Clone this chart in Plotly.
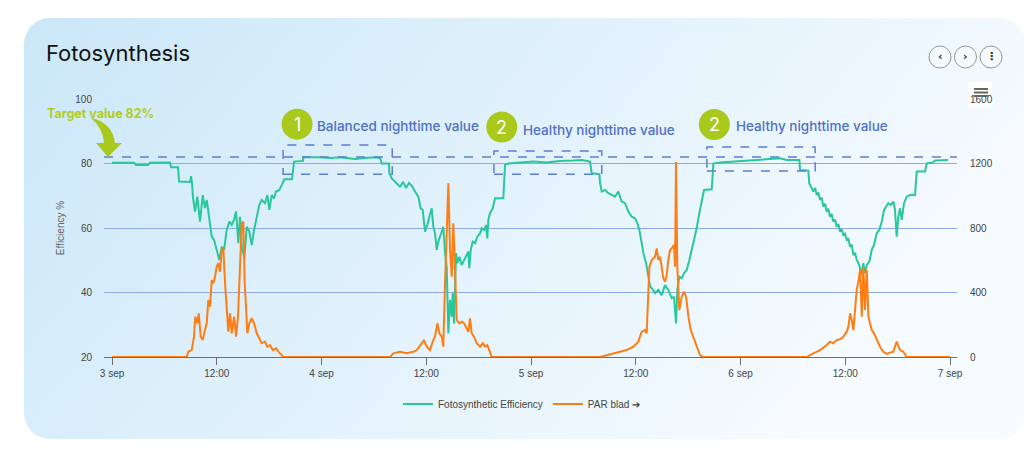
import base64
import pandas as pd
import plotly.graph_objects as go

BASE = pd.Timestamp("2024-09-03 00:00")

# (hours since 3 sep 00:00, efficiency %)
eff_points = [
    (0.00, 80.2), (2.52, 80.2), (2.75, 79.5), (4.12, 79.5), (4.35, 80.2), (6.64, 80.3), (6.76, 78.8),
    (7.56, 78.8), (7.68, 74.4), (8.94, 74.3), (9.05, 76.1), (9.16, 74.0), (9.28, 69.3), (9.51, 65.1),
    (9.77, 69.7), (10.08, 62.0), (10.39, 70.2), (10.65, 66.2), (10.85, 68.7), (11.15, 62.0), (11.42, 57.3),
    (11.69, 56.3), (11.99, 53.2), (12.29, 50.1), (12.57, 54.2), (12.83, 53.2), (13.14, 59.4), (13.44, 62.0),
    (13.71, 61.0), (13.98, 62.5), (14.21, 65.1), (14.47, 55.3), (14.66, 63.5), (14.86, 54.2), (15.16, 50.6),
    (15.43, 60.4), (15.73, 58.9), (16.00, 54.7), (16.27, 59.4), (16.58, 63.5), (16.87, 67.1), (17.15, 68.7),
    (17.53, 67.7), (17.79, 70.2), (18.02, 65.6), (18.30, 70.2), (18.56, 69.2), (18.79, 71.3), (19.17, 71.8),
    (19.44, 73.3), (19.74, 75.1), (20.62, 75.1), (20.85, 80.6), (21.88, 80.8), (21.92, 81.9), (23.83, 81.9),
    (24.97, 81.7), (26.12, 81.9), (27.27, 81.6), (27.84, 81.4), (28.98, 81.7), (30.13, 81.9), (30.70, 81.7),
    (30.90, 80.0), (31.73, 80.0), (31.77, 77.0), (32.04, 75.4), (32.61, 74.0), (32.99, 72.8), (33.34, 74.3),
    (33.68, 72.4), (34.02, 74.0), (34.37, 73.0), (34.71, 71.3), (35.09, 69.7), (35.36, 66.1), (35.59, 65.6),
    (35.86, 58.9), (36.12, 60.9), (36.35, 63.5), (36.62, 66.1), (36.81, 60.4), (37.00, 58.3), (37.20, 53.2),
    (37.38, 55.8), (37.58, 57.3), (37.77, 58.9), (37.95, 60.4), (38.15, 52.2), (38.34, 48.0), (38.53, 27.3),
    (38.72, 37.7), (38.92, 32.5), (39.03, 39.8), (39.18, 30.4), (39.29, 38.7), (39.41, 52.2), (39.56, 49.1),
    (39.79, 51.1), (40.06, 48.5), (40.33, 50.1), (40.55, 51.1), (40.82, 52.7), (40.93, 47.5), (41.09, 53.2),
    (41.32, 55.8), (41.59, 55.3), (41.85, 57.3), (42.16, 58.3), (42.35, 59.9), (42.62, 59.4), (42.85, 60.9),
    (42.99, 56.8), (43.11, 62.5), (43.30, 64.6), (43.61, 66.1), (43.88, 69.2), (44.83, 69.2), (45.02, 79.5),
    (45.40, 80.0), (46.74, 80.3), (48.26, 80.6), (49.80, 80.3), (51.32, 80.8), (52.85, 80.9), (53.81, 81.1),
    (54.76, 80.6), (54.95, 77.0), (55.83, 76.7), (55.91, 73.9), (56.10, 71.3), (56.48, 71.8), (56.86, 70.8),
    (57.25, 70.2), (57.62, 69.7), (58.00, 71.3), (58.39, 68.2), (58.77, 67.7), (59.15, 65.1), (59.54, 63.5),
    (59.91, 63.0), (60.18, 61.5), (60.41, 59.4), (60.68, 55.3), (60.87, 52.2), (61.18, 49.1), (61.44, 45.0),
    (61.63, 42.0), (61.83, 41.3), (62.21, 39.8), (62.58, 40.8), (62.97, 39.2), (63.35, 42.3), (63.73, 40.8),
    (64.12, 38.2), (64.38, 38.7), (64.61, 30.4), (64.76, 40.8), (64.99, 44.9), (65.26, 44.4), (65.53, 46.0),
    (65.84, 47.0), (66.14, 50.1), (66.41, 53.2), (66.67, 55.8), (66.98, 59.9), (67.28, 64.6), (67.56, 68.7),
    (67.82, 71.8), (68.70, 72.0), (68.89, 80.0), (69.65, 80.3), (71.18, 80.6), (72.71, 80.8), (74.23, 81.1),
    (75.76, 81.3), (76.53, 81.6), (77.29, 81.1), (78.74, 81.1), (78.82, 78.0), (79.77, 77.8), (79.88, 73.9),
    (80.34, 71.3), (80.55, 72.4), (80.73, 70.2), (80.92, 71.0), (81.11, 68.7), (81.30, 69.4), (81.49, 66.6),
    (81.68, 67.5), (81.87, 65.1), (82.06, 66.0), (82.25, 63.5), (82.44, 64.3), (82.63, 62.0), (82.82, 62.6),
    (83.02, 60.4), (83.21, 61.2), (83.40, 58.9), (83.59, 59.6), (83.78, 57.8), (83.97, 58.2), (84.17, 56.3),
    (84.36, 56.8), (84.55, 54.2), (84.74, 54.8), (84.93, 51.6), (85.12, 52.3), (85.31, 50.1),
    (85.61, 48.5), (85.81, 45.4), (86.07, 49.1), (86.26, 46.0), (86.46, 48.5), (86.76, 49.6), (87.03, 53.2),
    (87.29, 54.7), (87.60, 58.3), (87.90, 59.4), (88.18, 62.0), (88.44, 65.6), (88.67, 66.6), (88.93, 67.7),
    (89.21, 67.1), (89.51, 68.2), (89.70, 65.6), (89.89, 57.3), (90.08, 63.5), (90.27, 66.1), (90.47, 62.5),
    (90.73, 67.7), (91.04, 69.7), (91.42, 70.2), (91.99, 70.2), (92.19, 77.5), (93.14, 77.5), (93.33, 80.0),
    (94.05, 80.3), (94.28, 80.9), (95.77, 81.1),
]

# (hours since 3 sep 00:00, PAR)
par_points = [
    (0.00, 0), (8.56, 0), (8.74, 33), (9.13, 43), (9.39, 126), (9.54, 250), (9.77, 209), (9.93, 271),
    (10.16, 126), (10.39, 105), (10.65, 167), (10.85, 209), (11.03, 353), (11.23, 312), (11.42, 477),
    (11.61, 457), (11.80, 498), (11.99, 560), (12.18, 581), (12.37, 529), (12.57, 664), (12.75, 674),
    (12.95, 457), (13.14, 271), (13.32, 157), (13.52, 271), (13.71, 147), (13.98, 250), (14.21, 126),
    (14.43, 250), (14.66, 560), (14.86, 829), (15.04, 839), (15.20, 457), (15.35, 312), (15.50, 147),
    (15.73, 209), (16.00, 240), (16.27, 209), (16.58, 147), (16.87, 116), (17.15, 85), (17.53, 95),
    (17.79, 64), (18.10, 74), (18.41, 43), (18.79, 54), (19.05, 33), (19.44, 12), (19.63, 0),
    (31.85, 0), (32.23, 23), (32.99, 33), (33.76, 23), (34.52, 33), (34.91, 43), (35.48, 85), (35.74, 105),
    (36.05, 64), (36.43, 43), (36.74, 95), (37.00, 126), (37.27, 209), (37.50, 147), (37.77, 126),
    (37.95, 64), (38.15, 457), (38.34, 808), (38.53, 1077), (38.72, 664), (38.92, 498), (39.10, 829),
    (39.29, 457), (39.49, 229), (39.79, 209), (40.06, 219), (40.33, 209), (40.55, 188), (40.82, 157),
    (41.01, 240), (41.21, 147), (41.47, 126), (41.78, 85), (42.16, 64), (42.47, 85), (42.73, 64),
    (42.99, 74), (43.22, 43), (43.50, 0),
    (55.91, 0), (57.43, 23), (58.96, 43), (59.72, 64), (60.29, 95), (60.68, 157), (61.06, 167),
    (61.25, 147), (61.44, 353), (61.56, 560), (61.83, 602), (62.21, 622), (62.40, 674), (62.58, 602),
    (62.78, 622), (62.97, 560), (63.16, 488), (63.35, 467), (63.55, 509), (63.73, 602), (63.92, 664),
    (64.12, 674), (64.38, 695), (64.50, 560), (64.61, 1210), (64.76, 560), (64.99, 291), (65.26, 374),
    (65.53, 405), (65.76, 374), (66.03, 250), (66.30, 167), (66.60, 126), (66.98, 64), (67.36, 12),
    (67.70, 0),
    (79.58, 0), (80.34, 23), (81.11, 43), (81.87, 74), (82.25, 95), (82.63, 85), (83.02, 105),
    (83.40, 110), (83.78, 126), (84.17, 157), (84.36, 188), (84.55, 271), (84.74, 229), (84.93, 167),
    (85.12, 312), (85.31, 416), (85.50, 467), (85.70, 540), (85.89, 250), (86.07, 560), (86.26, 291),
    (86.46, 540), (86.65, 250), (86.84, 209), (87.03, 167), (87.29, 147), (87.60, 105), (87.98, 64),
    (88.36, 33), (88.74, 19), (89.13, 27), (89.51, 33), (89.89, 95), (90.08, 64), (90.27, 43),
    (90.65, 33), (91.04, 0), (96.00, 0),
]

tick_hours = [0, 12, 24, 36, 48, 60, 72, 84, 96]
tick_labels = ["3 sep", "12:00", "4 sep", "12:00", "5 sep", "12:00", "6 sep", "12:00", "7 sep"]

target_value = 82
# (start hour, end hour, low %, high %)
night_boxes = [(19.6, 32.1, 76.7, 85.7), (43.75, 56.1, 76.7, 83.9), (68.15, 80.55, 77.7, 85.1)]
# (badge text, badge hour, badge %, label, label hour, label %)
night_notes = [
    ("1", 21.2, 92.2, "Balanced nighttime value", 23.3, 91.7),
    ("2", 44.65, 91.3, "Healthy nighttime value", 46.8, 90.5),
    ("2", 69.0, 92.1, "Healthy nighttime value", 71.2, 91.7),
]

GREEN = "#28c79c"
ORANGE = "#ff7d12"
GRID = "#8fa9e6"
DASH = "#5c7fd4"
LIME = "#a9c91d"
NOTE_BLUE = "#4f70c9"

W, H = 1024, 459
L, R, T, B = 104, 67, 99, 102
PW, PH = W - L - R, H - T - B


def t(h):
    return BASE + pd.Timedelta(hours=h)


def px(x, y):
    return (x - L) / PW, (H - B - y) / PH


svg = (
    f"<svg xmlns='http://www.w3.org/2000/svg' width='{W}' height='{H}' viewBox='0 0 {W} {H}' preserveAspectRatio='none'>"
    "<defs><linearGradient id='g' x1='0' y1='0' x2='1' y2='0.35'>"
    "<stop offset='0' stop-color='#cbe7f8'/><stop offset='0.55' stop-color='#e2f2fc'/>"
    "<stop offset='1' stop-color='#f6fbff'/></linearGradient></defs>"
    "<rect x='24' y='18' width='1001' height='421' rx='26' ry='26' fill='url(#g)'/></svg>"
)
bg_uri = "data:image/svg+xml;base64," + base64.b64encode(svg.encode()).decode()

fig = go.Figure()
fig.add_trace(go.Scatter(
    x=[t(h) for h, _ in eff_points], y=[v for _, v in eff_points],
    mode="lines", name="Fotosynthetic Efficiency", line=dict(color=GREEN, width=2),
    yaxis="y",
))
fig.add_trace(go.Scatter(
    x=[t(h) for h, _ in par_points], y=[v for _, v in par_points],
    mode="lines", name="PAR blad ➔", line=dict(color=ORANGE, width=2),
    yaxis="y2",
))

shapes = []
shapes.append(dict(type="line", xref="paper", yref="y", x0=0, x1=1, y0=target_value, y1=target_value,
                   line=dict(color=DASH, width=1.5, dash="dash"), layer="above"))
for h0, h1, lo, hi in night_boxes:
    shapes.append(dict(type="rect", xref="x", yref="y", x0=t(h0), x1=t(h1), y0=lo, y1=hi,
                       line=dict(color=DASH, width=1.5, dash="dash"), layer="above"))
for num, bh, bv, _, _, _ in night_notes:
    shapes.append(dict(type="circle", xref="x", yref="y", xsizemode="pixel", ysizemode="pixel",
                       xanchor=t(bh), yanchor=bv, x0=-15.5, x1=15.5, y0=-15.5, y1=15.5,
                       fillcolor=LIME, line=dict(width=0), layer="above"))

# curved target arrow
pts = [(91, 118), (112, 122), (115, 143), (122, 143), (108, 157), (96, 143), (104, 143), (103, 128), (91, 118)]
conv = [px(x, y) for x, y in pts]
d = ("M {:.5f},{:.5f} Q {:.5f},{:.5f} {:.5f},{:.5f} L {:.5f},{:.5f} L {:.5f},{:.5f} "
     "L {:.5f},{:.5f} L {:.5f},{:.5f} Q {:.5f},{:.5f} {:.5f},{:.5f} Z").format(*[c for p in conv for c in p])
shapes.append(dict(type="path", xref="paper", yref="paper", path=d, fillcolor=LIME,
                   line=dict(width=0), layer="above"))

# header buttons
for cx in (940, 965.5, 991):
    a0, b0 = px(cx - 11, 57 + 11)
    a1, b1 = px(cx + 11, 57 - 11)
    shapes.append(dict(type="circle", xref="paper", yref="paper", x0=a0, x1=a1, y0=b0, y1=b1,
                       fillcolor="rgba(255,255,255,0.35)", line=dict(color="#8c9a90", width=1)))
# export (hamburger) icon
a0, b0 = px(968, 107)
a1, b1 = px(992, 82)
shapes.append(dict(type="rect", xref="paper", yref="paper", x0=a0, x1=a1, y0=b0, y1=b1,
                   fillcolor="#ffffff", line=dict(width=0), layer="below"))
for yy in (89, 92.5, 96):
    a0, b0 = px(974, yy)
    a1, b1 = px(988, yy)
    shapes.append(dict(type="line", xref="paper", yref="paper", x0=a0, x1=a1, y0=b0, y1=b1,
                       line=dict(color="#666666", width=2), layer="above"))

annotations = []
tx, ty = px(44, 53)
annotations.append(dict(text="Fotosynthesis", xref="paper", yref="paper", x=tx, y=ty, xanchor="left",
                        yanchor="middle", showarrow=False,
                        font=dict(family="Inter, Noto Sans, sans-serif", size=22, color="#111111")))
tx, ty = px(46, 113)
annotations.append(dict(text="<b>Target value 82%</b>", xref="paper", yref="paper", x=tx, y=ty,
                        xanchor="left", yanchor="middle", showarrow=False, borderpad=0,
                        font=dict(family="Inter, Noto Sans, sans-serif", size=12.5, color="#b2cc24")))
for num, bh, bv, label, lh, lv in night_notes:
    annotations.append(dict(text=num, xref="x", yref="y", x=t(bh), y=bv, showarrow=False,
                            xanchor="center", yanchor="middle",
                            font=dict(family="Inter, Noto Sans, sans-serif", size=18, color="#ffffff")))
    annotations.append(dict(text=label, xref="x", yref="y", x=t(lh), y=lv, showarrow=False,
                            xanchor="left", yanchor="middle",
                            font=dict(family="Inter, Noto Sans, sans-serif", size=13.5, weight=500,
                                      color=NOTE_BLUE)))
for cx, glyph in ((940, "‹"), (965.5, "›"), (991, "⋮")):
    a, b = px(cx, 57)
    annotations.append(dict(text=f"<b>{glyph}</b>", xref="paper", yref="paper", x=a, y=b, showarrow=False,
                            xanchor="center", yanchor="middle",
                            font=dict(family="DejaVu Sans", size=11, color="#222222")))

ix, iy = px(0, 0)
fig.update_layout(
    width=W, height=H,
    margin=dict(l=L, r=R, t=T, b=B, pad=0),
    paper_bgcolor="#ffffff", plot_bgcolor="rgba(0,0,0,0)",
    font=dict(family="Liberation Sans, Arial, sans-serif", size=10, color="#555555"),
    images=[dict(source=bg_uri, xref="paper", yref="paper", x=ix, y=iy, sizex=W / PW, sizey=H / PH,
                 xanchor="left", yanchor="top", sizing="stretch", layer="below")],
    xaxis=dict(
        type="date", range=[t(-0.92), t(96.8)],
        tickvals=[t(h) for h in tick_hours], ticktext=tick_labels,
        showgrid=False, showline=True, linecolor="#6f6f6f", linewidth=1,
        ticks="outside", ticklen=7, tickcolor="#6f6f6f",
        tickfont=dict(size=10, color="#444444"), zeroline=False,
    ),
    yaxis=dict(
        range=[20, 100], tickvals=[20, 40, 60, 80, 100], showgrid=True, gridcolor=GRID, gridwidth=1,
        zeroline=False, showline=False, ticks="", ticklabelstandoff=11,
        title=dict(text="Efficiency %", standoff=8, font=dict(size=10, color="#666666")),
        tickfont=dict(size=10, color="#444444"),
    ),
    yaxis2=dict(
        range=[0, 1600], tickvals=[0, 400, 800, 1200, 1600], overlaying="y", side="right",
        showgrid=False, zeroline=False, showline=False, ticks="", ticklabelstandoff=12,
        tickfont=dict(size=10, color="#444444"),
    ),
    legend=dict(orientation="h", x=0.49, xanchor="center", y=px(0, 404)[1], yanchor="middle",
                bgcolor="rgba(0,0,0,0)", font=dict(size=10, color="#444444"), itemwidth=30),
    shapes=shapes,
    annotations=annotations,
)

fig.write_html("out.html", config={"displayModeBar": False},
               post_script="document.body.style.margin='0';")
